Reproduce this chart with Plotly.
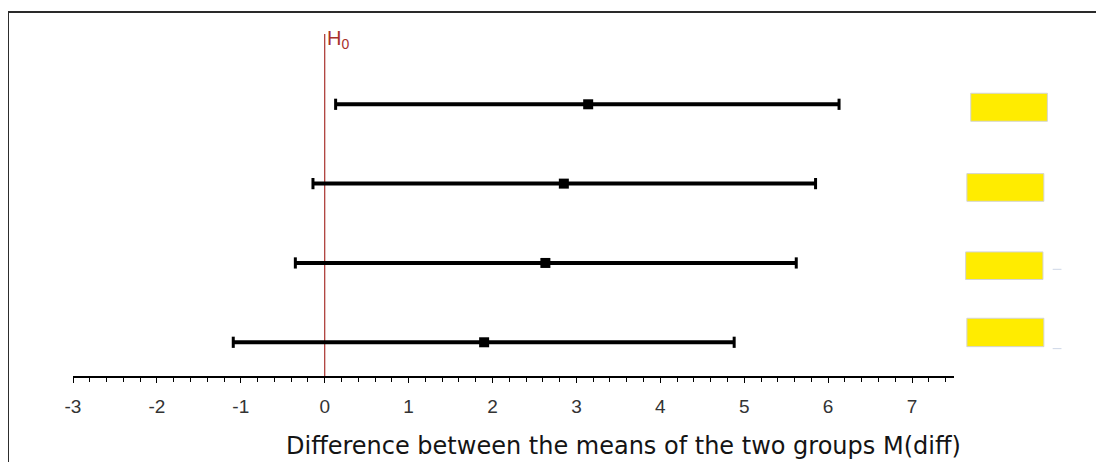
import plotly.graph_objects as go

# ---- data ----
rows = [4, 3, 2, 1]                 # vertical position of each interval (top to bottom)
means = [3.14, 2.85, 2.63, 1.90]
lower = [0.13, -0.14, -0.35, -1.09]
upper = [6.13, 5.85, 5.62, 4.88]
h0_value = 0
tick_vals = [-3, -2, -1, 0, 1, 2, 3, 4, 5, 6, 7]
tick_text = ["-3", "-2", "-1", "0", "1", "2", "3", "4", "5", "6", "7"]
x_title = "Difference between the means of the two groups M(diff)"

fig = go.Figure()

# interval lines
lx, ly = [], []
for lo, hi, r in zip(lower, upper, rows):
    lx += [lo, hi, None]
    ly += [r, r, None]
fig.add_trace(go.Scatter(x=lx, y=ly, mode="lines",
                         line=dict(color="black", width=4), hoverinfo="skip"))

# caps
fig.add_trace(go.Scatter(x=lower + upper, y=rows + rows, mode="markers",
                         marker=dict(symbol="line-ns", size=8,
                                     line=dict(color="black", width=3)),
                         hoverinfo="skip"))

# means
fig.add_trace(go.Scatter(x=means, y=rows, mode="markers",
                         marker=dict(symbol="square", size=10, color="black",
                                     line=dict(width=0))))

shapes = []
# H0 line
shapes.append(dict(type="line", xref="x", yref="paper", x0=h0_value, x1=h0_value,
                   y0=0, y1=1, line=dict(color="#a8302c", width=1.2), layer="below"))

# yellow label boxes (right side)
box_x = [(1.019, 1.106), (1.0146, 1.102), (1.0132, 1.101), (1.0146, 1.102)]
box_dy = [(0.139, -0.214), (0.126, -0.223), (0.139, -0.209), (0.303, -0.055)]
for r, (bx0, bx1), (d1, d0) in zip(rows, box_x, box_dy):
    shapes.append(dict(type="rect", xref="paper", yref="y", x0=bx0, x1=bx1,
                       y0=r + d0, y1=r + d1, fillcolor="#ffec00",
                       line=dict(color="#d4d4d4", width=1)))

# faint dashes next to the lower boxes
for r, dy in [(2, -0.08), (1, -0.08)]:
    shapes.append(dict(type="line", xref="paper", yref="y", x0=1.112, x1=1.122,
                       y0=r + dy, y1=r + dy, line=dict(color="#cdd6e6", width=1)))

# outer frame (left and top edges)
shapes.append(dict(type="path", xref="paper", yref="paper",
                   path="M -0.0738,-0.4 L -0.0738,1.064 L 1.3,1.064",
                   line=dict(color="#2a2a2a", width=2)))

fig.update_layout(
    width=1096, height=454,
    margin=dict(l=65, r=150, t=26, b=86),
    paper_bgcolor="white", plot_bgcolor="white",
    showlegend=False,
    shapes=shapes,
    xaxis=dict(range=[-3, 7.5], tickmode="array", tickvals=tick_vals, ticktext=tick_text,
               showgrid=False, zeroline=False, showline=True, linecolor="black", linewidth=1.5,
               ticks="outside", ticklen=5, tickwidth=1.2, tickcolor="black",
               minor=dict(dtick=0.2, tick0=-3, ticks="outside", ticklen=4, tickwidth=1,
                          tickcolor="black", showgrid=False),
               ticklabelstandoff=7,
               tickfont=dict(family="Liberation Sans, Arial", size=19, color="#333333"),
               fixedrange=True),
    yaxis=dict(range=[0.575, 4.886], visible=False, fixedrange=True),
    annotations=[
        dict(text=x_title, xref="paper", yref="paper", x=0.625, y=-0.205,
             xanchor="center", yanchor="middle", showarrow=False,
             font=dict(family="DejaVu Sans, Verdana", size=24, color="#141414")),
        dict(text="H<sub>0</sub>", xref="x", yref="paper", x=h0_value, y=1.025,
             xanchor="left", yanchor="top", xshift=0, showarrow=False,
             font=dict(family="Liberation Sans, Arial", size=20, color="#a8302c")),
    ],
)

fig.write_html("out.html")
